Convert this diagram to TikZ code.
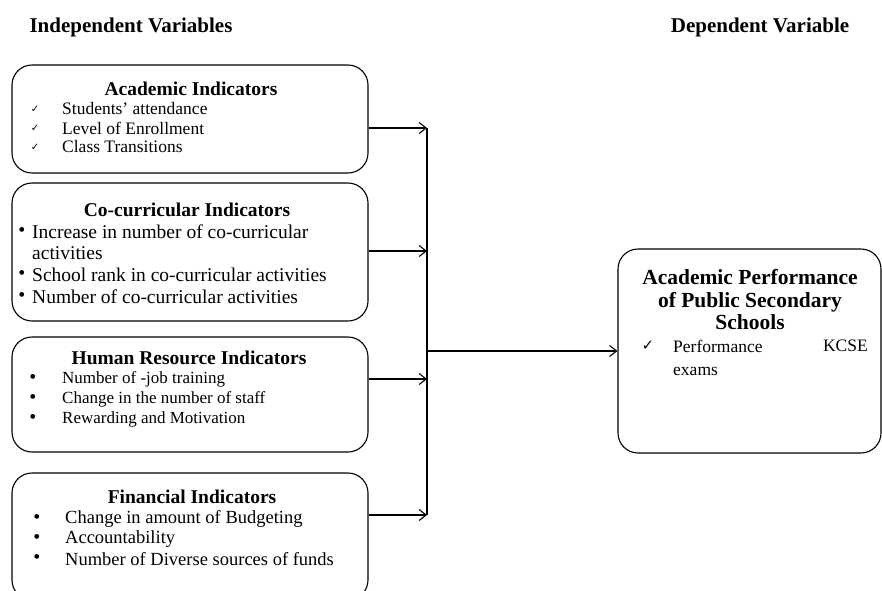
\documentclass[tikz,border=0pt]{standalone}
\usepackage{fontspec}
\setmainfont{Liberation Serif}
\newfontfamily\symfont{DejaVu Sans}
\usetikzlibrary{arrows.meta,positioning}

\begin{document}
\begin{tikzpicture}[x=1pt, y=-1pt, >={Straight Barb[length=7pt,width=11pt]},
    box/.style={draw, rounded corners=20pt, line width=1.1pt, inner sep=0pt},
    head/.style={inner sep=0pt, font=\fontsize{21}{24}\selectfont\bfseries},
    title/.style={inner sep=0pt, font=\fontsize{19.5}{22}\selectfont\bfseries},
    item/.style={anchor=west, inner sep=0pt, font=\fontsize{#1}{19}\selectfont},
    item/.default=16.5,
    tick/.style={inner sep=0pt, font=\fontsize{10}{10}\selectfont\symfont},
    dot/.style={inner sep=0pt, font=\fontsize{20}{20}\selectfont},
    conn/.style={->, line width=1.1pt}]
    \useasboundingbox (0,0) rectangle (882,590);
    % headings
    \node [head] (indep) at (131,27) {Independent Variables};
    \node [head] (dep) at (760,27) {Dependent Variable};
    % boxes
    \node [box, minimum width=356pt, minimum height=108pt] (acad) at (190,119) {};
    \node [box, minimum width=356pt, minimum height=138pt] (cocur) at (190,252) {};
    \node [box, minimum width=356pt, minimum height=115pt] (human) at (190,394.5) {};
    \node [box, minimum width=356pt, minimum height=127pt] (fin) at (190,536.5) {};
    \node [box, minimum width=263pt, minimum height=204pt] (perf) at (749.5,351) {};
    % academic indicators
    \node [title] (acadt) at (191,89) {Academic Indicators};
    \foreach \y/\txt [count=\i] in {109/Students' attendance, 128/Level of Enrollment, 147/Class Transitions} {
        \node [tick] (acadk\i) at (35,\y) {✓};
        \node [item=17.5] (acad\i) at (62,\y) {\txt};
    }
    % co-curricular indicators
    \node [title] (cocurt) at (187,210) {Co-curricular Indicators};
    \foreach \y in {232,275,297} \node [dot] at (22,\y) {•};
    \node [item=19.5] (cocur1) at (32,232) {Increase in number of co-curricular};
    \node [item=19.5] (cocur1b) at (32,253) {activities};
    \node [item=19.5] (cocur2) at (32,275) {School rank in co-curricular activities};
    \node [item=19.5] (cocur3) at (32,297) {Number of co-curricular activities};
    % human resource indicators
    \node [title] (humant) at (189,358) {Human Resource Indicators};
    \foreach \y/\txt [count=\i] in {379/Number of -job training, 399/Change in the number of staff, 419/Rewarding and Motivation} {
        \node [dot] (humank\i) at (33,\y) {•};
        \node [item=17] (human\i) at (62,\y) {\txt};
    }
    % financial indicators
    \node [title] (fint) at (192,497) {Financial Indicators};
    \foreach \y/\txt [count=\i] in {519/Change in amount of Budgeting, 539/Accountability, 559/Number of Diverse sources of funds} {
        \node [dot] (fink\i) at (37,\y) {•};
        \node [item=18.5] (fin\i) at (65,\y) {\txt};
    }
    % dependent variable
    \node [title, align=center, font=\fontsize{21.5}{22.5}\selectfont\bfseries] (perft) at (750,300)
        {Academic Performance\\of Public Secondary\\Schools};
    \node [tick, font=\fontsize{15}{16}\selectfont\symfont] (perfk) at (648,346) {✓};
    \node [item=17.5] (perf1) at (673,346) {Performance};
    \node [item=17.5, anchor=east] (perf1b) at (868,346) {KCSE};
    \node [item=17.5] (perf2) at (673,371) {exams};
    % connectors
    \coordinate (b1) at (427,128);
    \coordinate (b2) at (427,251);
    \coordinate (b3) at (427,379);
    \coordinate (b4) at (427,515);
    \coordinate (bm) at (427,351);
    \draw [line width=1.1pt] (b1) -- (b4);
    \draw [conn] (acad.east |- b1) -- (b1);
    \draw [conn] (cocur.east |- b2) -- (b2);
    \draw [conn] (human.east |- b3) -- (b3);
    \draw [conn] (fin.east |- b4) -- (b4);
    \draw [conn] (bm) -- (perf.west |- bm);
\end{tikzpicture}
\end{document}
